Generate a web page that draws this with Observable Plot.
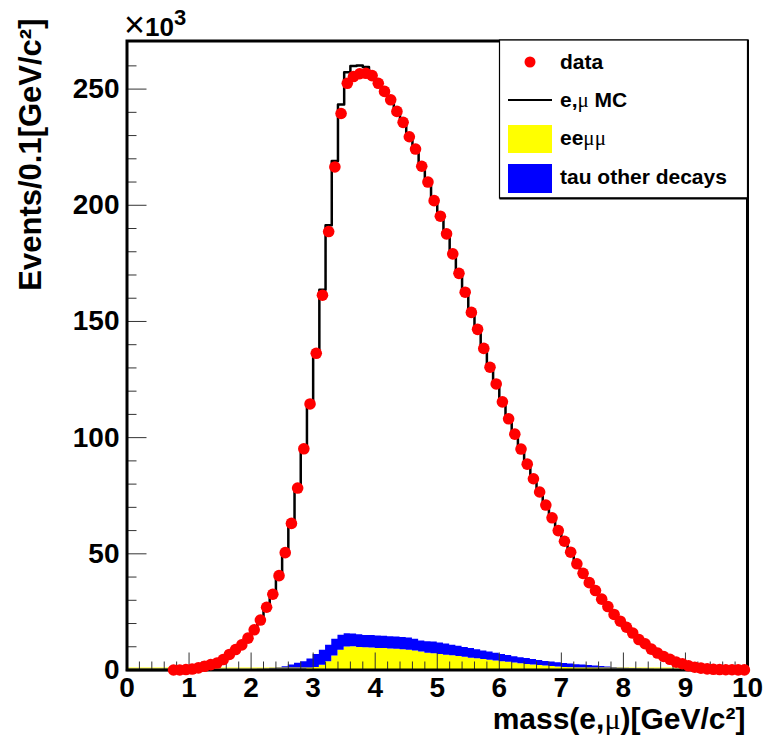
<!DOCTYPE html>
<html><head><meta charset="utf-8">
<script src="https://cdn.jsdelivr.net/npm/d3@7"></script>
<script src="https://cdn.jsdelivr.net/npm/@observablehq/plot@0.6"></script>
<style>body{margin:0;background:#fff}</style>
</head><body><div id="chart"></div>
<script>
// ---- bins: 100 bins of 0.1 GeV/c^2 from 0 to 10
const binLow = d3.range(100).map(i => i / 10);
const binCenter = binLow.map(b => b + 0.05);

// ---- data (×10^3 events per bin); null = no point drawn
const dataCounts = [
  null,null,null,null,null,null,null, 0,0,0.2,
  0.4,0.9,1.6,2.3,3.0,4.5,6.7,8.8,10.8,13.7,
  17.3,21.5,27.0,32.6,40.6,50.5,63.1,78.3,95.2,114.5,
  136.3,161.3,188.7,216.5,239.5,252.5,255.4,256.6,256.8,255.8,
  252.5,249.0,245.4,240.4,235.7,229.5,224.2,216.8,210.0,202.0,
  195.3,187.7,179.1,170.7,162.6,153.9,146.6,138.4,130.3,123.1,
  115.4,108.1,101.5,95.1,88.6,82.3,76.6,71.0,65.5,60.0,
  55.4,50.7,45.7,41.6,37.6,34.2,30.5,27.3,23.9,21.0,
  18.4,15.9,13.1,11.3,9.0,7.3,5.8,4.6,3.4,2.7,
  1.8,1.2,0.8,0.5,0.3,0.2,0.1,0.1,0.05,0.05
];
// ---- e,mu MC (black histogram)
const mcCounts = [
  0,0,0,0,0,0,0, 0,0,0.2,
  0.4,0.9,1.6,2.3,3.0,4.5,6.7,8.8,10.8,13.7,
  17.3,21.5,27.0,32.6,40.6,50.5,63.1,78.3,95.2,114.5,
  137.5,163.7,191.4,219.1,243.4,257.3,259.9,260.2,259.5,256.8,
  252.5,249.0,245.4,240.4,235.7,229.5,224.2,216.8,210.0,202.0,
  195.3,187.7,179.1,170.7,162.6,153.9,146.6,138.4,130.3,123.1,
  115.4,108.1,101.5,95.1,88.6,82.3,76.6,71.0,65.5,60.0,
  55.4,50.7,45.7,41.6,37.6,34.2,30.5,27.3,23.9,21.0,
  18.4,15.9,13.1,11.3,9.0,7.3,5.8,4.6,3.4,2.7,
  1.8,1.2,0.8,0.5,0.3,0.2,0.1,0.1,0.05,0.05
];
// ---- eeμμ background (yellow)
const eemumuCounts = [
  0,0,0,0,0,0,0,0,0,0,
  0,0,0,0,0,0,0,0,0,0,
  0,0,0,0,0,0,0,0,0.1,0.6,
  1.1,2.0,3.6,6.0,8.5,9.9,10.0,9.7,9.6,9.5,
  9.3,9.2,9.0,8.9,8.7,8.5,8.2,7.7,7.2,7.0,
  6.7,6.4,6.1,5.8,5.5,5.1,4.8,4.5,4.2,3.9,
  3.6,3.3,3.0,2.7,2.4,2.2,1.9,1.7,1.5,1.3,
  1.1,0.95,0.8,0.7,0.6,0.5,0.4,0.3,0.25,0.2,
  0.15,0.1,0.1,0.05,0.05,0,0,0,0,0,
  0,0,0,0,0,0,0,0,0,0
];
// ---- tau other decays (blue, stacked on eeμμ)
const tauOtherCounts = [
  0,0,0,0,0,0,0,0,0,0,
  0,0,0,0,0,0,0,0,0,0,
  0,0.3,0.4,0.7,1.0,1.4,2.1,2.9,3.5,4.1,
  5.6,6.5,7.1,7.2,6.5,5.7,5.5,5.5,5.3,5.3,
  5.3,5.3,5.3,5.3,5.3,5.3,5.0,4.8,5.0,5.0,
  4.9,4.8,4.6,4.4,4.2,4.1,3.9,3.7,3.5,3.3,
  3.1,2.9,2.7,2.6,2.5,2.3,2.2,2.0,1.9,1.8,
  1.7,1.65,1.5,1.4,1.3,1.2,1.1,1.0,0.85,0.7,
  0.65,0.5,0.45,0.35,0.3,0.2,0.15,0.1,0.05,0,
  0,0,0,0,0,0,0,0,0,0
];

const xMajorTicks = [0,1,2,3,4,5,6,7,8,9,10];
const xMinorTicks = d3.range(0, 51).map(i => i / 5).filter(v => !Number.isInteger(v));
const yMajorTicks = [0,50,100,150,200,250];
const yMinorTicks = [10,20,30,40,60,70,80,90,110,120,130,140,160,170,180,190,210,220,230,240,260];

const seriesNames = ["eeμμ", "tau other decays"];
const seriesColors = ["#ffff00", "#0000ff"];
const legendLabels = ["data", "e,μ MC", "eeμμ", "tau other decays"];
const xTitle = "mass(e,μ)[GeV/c²]";
const yTitle = "Events/0.1[GeV/c²]";

// ---- tables built from the arrays
const stackRows = [];
[eemumuCounts, tauOtherCounts].forEach((vals, k) => {
  binLow.forEach((x, i) => stackRows.push({x, y: vals[i], s: seriesNames[k]}));
  stackRows.push({x: 10, y: 0, s: seriesNames[k]});
});
const mcRows = binLow.map((x, i) => ({x, y: mcCounts[i]}));
mcRows.push({x: 10, y: mcCounts[99]});
const dataRows = binCenter.map((x, i) => ({x, y: dataCounts[i]})).filter(d => d.y !== null);

const W = 763, H = 740;
const mL = 126.5, mR = 16, mT = 40.5, mB = 70.5;
const plotW = W - mL - mR, plotH = H - mT - mB;
const FONT = "'Liberation Sans', Arial, Helvetica, sans-serif";

const svg = Plot.plot({
  width: W, height: H,
  marginLeft: mL, marginRight: mR, marginTop: mT, marginBottom: mB,
  style: {fontFamily: FONT, background: "#fff", color: "#000"},
  x: {domain: [0, 10], axis: null},
  y: {domain: [0, 270.7], axis: null},
  color: {domain: seriesNames, range: seriesColors},
  marks: [
    Plot.areaY(stackRows, {x: "x", y: "y", fill: "s", curve: "step-after", order: seriesNames}),
    Plot.ruleY([0], {stroke: "#ffff00", strokeWidth: 1.2, dy: -2}),
    Plot.lineY(mcRows, {x: "x", y: "y", curve: "step-after", stroke: "#000", strokeWidth: 2.5}),
    Plot.tickY(yMajorTicks, {y: d => d, insetRight: plotW - 20, stroke: "#333", strokeWidth: 1}),
    Plot.tickY(yMinorTicks, {y: d => d, insetRight: plotW - 10, stroke: "#333", strokeWidth: 1}),
    Plot.tickX(xMajorTicks, {x: d => d, insetTop: plotH - 17, stroke: "#333", strokeWidth: 1}),
    Plot.tickX(xMinorTicks, {x: d => d, insetTop: plotH - 8, stroke: "#333", strokeWidth: 1}),
    Plot.frame({stroke: "#000", strokeWidth: 3}),
    Plot.dot(dataRows, {x: "x", y: "y", r: 5.8, fill: "#ff0000", stroke: "none"}),
    Plot.text(yMajorTicks, {y: d => d, text: d => String(d), frameAnchor: "left", textAnchor: "end", dx: -7.5, fontSize: 28, fontWeight: "bold", fill: "#000"}),
    Plot.text(xMajorTicks, {x: d => d, text: d => String(d), frameAnchor: "bottom", dy: 27, fontSize: 28, fontWeight: "bold", fill: "#000"}),
    Plot.text([xTitle], {text: d => d, frameAnchor: "bottom-right", textAnchor: "end", dx: -2, dy: 59, fontSize: 30, fontWeight: "bold", fill: "#000"}),
    Plot.text([yTitle], {text: d => d, frameAnchor: "top-left", textAnchor: "end", rotate: -90, dx: 18 - mL, dy: 18 - mT, fontSize: 31, fontWeight: "bold", fill: "#000"})
  ]
});

const root = d3.select(svg);

// ---- "×10³" exponent label
const ex = root.append("text").attr("x", 124).attr("y", 36).attr("text-anchor", "start")
  .attr("font-family", FONT).attr("font-size", 26).attr("fill", "#000");
ex.append("tspan").attr("font-weight", "normal").attr("font-size", 36).attr("dy", 1).text("×");
ex.append("tspan").attr("font-weight", "bold").attr("font-size", 26).attr("dy", -1).text("10");
ex.append("tspan").attr("font-weight", "bold").attr("font-size", 22).attr("dy", -11).text("3");

// ---- legend
const lg = root.append("g").attr("font-family", FONT).attr("text-anchor", "start");
lg.append("rect").attr("x", 499.5).attr("y", 40).attr("width", 248).attr("height", 158)
  .attr("fill", "#fff").attr("stroke", "#000").attr("stroke-width", 1.2);
lg.append("line").attr("x1", 499.5).attr("x2", 748).attr("y1", 198.5).attr("y2", 198.5)
  .attr("stroke", "#000").attr("stroke-width", 2);
const rowY = [62, 100, 139, 178];
const baseY = [69, 107, 144.5, 184];
lg.append("circle").attr("cx", 530).attr("cy", rowY[0]).attr("r", 5.5).attr("fill", "#ff0000");
lg.append("line").attr("x1", 508).attr("x2", 552).attr("y1", rowY[1]).attr("y2", rowY[1])
  .attr("stroke", "#000").attr("stroke-width", 2);
lg.append("rect").attr("x", 508).attr("y", 125).attr("width", 44).attr("height", 28).attr("fill", seriesColors[0]);
lg.append("rect").attr("x", 508).attr("y", 164).attr("width", 44).attr("height", 29).attr("fill", seriesColors[1]);
legendLabels.forEach((lab, i) => {
  lg.append("text").attr("x", 560).attr("y", baseY[i]).attr("font-size", 21)
    .attr("text-anchor", "start").attr("font-weight", "bold").attr("fill", "#000").text(lab);
});

// ---- render μ in a lighter symbol-like face (as in the original)
root.selectAll("text").each(function() {
  const el = this;
  if (el.childElementCount > 0) return;
  const s = el.textContent;
  if (!s.includes("μ")) return;
  el.textContent = "";
  const parts = s.split(/(μ)/);
  parts.forEach(p => {
    if (!p) return;
    const t = d3.select(el).append("tspan").text(p);
    if (p === "μ") t.attr("font-weight", "normal").attr("font-family", "'Liberation Serif', 'Times New Roman', serif");
  });
});

document.getElementById("chart").appendChild(svg);
</script>
</body></html>
